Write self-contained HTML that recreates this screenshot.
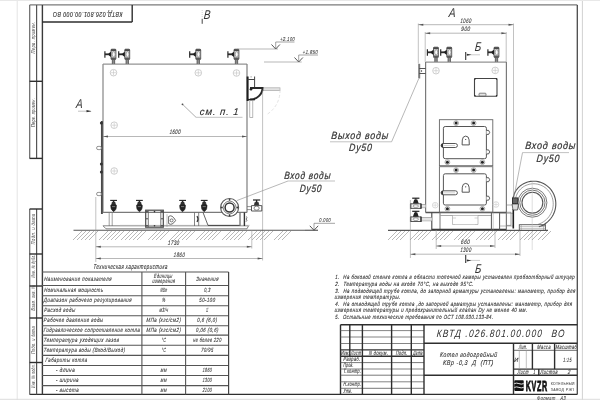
<!DOCTYPE html>
<html><head><meta charset="utf-8"><style>
html,body{margin:0;padding:0;background:#fff;}
svg{display:block;will-change:transform;}
text{font-family:"Liberation Sans",sans-serif;letter-spacing:0.09em;}
</style></head><body>
<svg width="600" height="400" viewBox="0 0 600 400" shape-rendering="auto">
<line x1="17.2" y1="0" x2="17.2" y2="400" stroke="#e4e4e4" stroke-width="1" />
<line x1="582.4" y1="0" x2="582.4" y2="400" stroke="#d2d2d2" stroke-width="1" />
<line x1="0" y1="0.5" x2="600" y2="0.5" stroke="#e8e8e8" stroke-width="1" />
<line x1="0" y1="399.3" x2="600" y2="399.3" stroke="#dcdcdc" stroke-width="1" />
<line x1="29.6" y1="4.8" x2="577.3" y2="4.8" stroke="#7a7a7a" stroke-width="1.3" />
<line x1="577.3" y1="5" x2="577.3" y2="394.4" stroke="#4a4a4a" stroke-width="1.3" />
<line x1="29.6" y1="394.4" x2="577.3" y2="394.4" stroke="#2e2e2e" stroke-width="1.4" />
<line x1="42.4" y1="5" x2="42.4" y2="394.4" stroke="#3a3a3a" stroke-width="1.4" />
<line x1="29.7" y1="5" x2="29.7" y2="158.4" stroke="#666" stroke-width="1.2" />
<line x1="36.6" y1="5" x2="36.6" y2="158.4" stroke="#555" stroke-width="1.2" />
<line x1="29.6" y1="158.4" x2="42" y2="158.4" stroke="#2e2e2e" stroke-width="1.4" />
<line x1="29.6" y1="81.3" x2="42" y2="81.3" stroke="#2e2e2e" stroke-width="1.4" />
<line x1="29.7" y1="209" x2="29.7" y2="394.4" stroke="#666" stroke-width="1.2" />
<line x1="36.6" y1="209" x2="36.6" y2="394.4" stroke="#555" stroke-width="1.2" />
<line x1="29.6" y1="209" x2="42" y2="209" stroke="#2e2e2e" stroke-width="1.4" />
<line x1="29.6" y1="254" x2="42" y2="254" stroke="#2e2e2e" stroke-width="1.4" />
<line x1="29.6" y1="286" x2="42" y2="286" stroke="#2e2e2e" stroke-width="1.4" />
<line x1="29.6" y1="318" x2="42" y2="318" stroke="#2e2e2e" stroke-width="1.4" />
<line x1="29.6" y1="362.5" x2="42" y2="362.5" stroke="#2e2e2e" stroke-width="1.4" />
<g transform="translate(33.4,37.5) rotate(-90)"><text x="0" y="0" font-size="5.2" font-style="italic" fill="#444" text-anchor="middle" textLength="32" lengthAdjust="spacingAndGlyphs" dominant-baseline="central">Перв. примен.</text></g>
<g transform="translate(33.4,112.5) rotate(-90)"><text x="0" y="0" font-size="5.2" font-style="italic" fill="#444" text-anchor="middle" textLength="29" lengthAdjust="spacingAndGlyphs" dominant-baseline="central">Перв. примен.</text></g>
<g transform="translate(33.4,229) rotate(-90)"><text x="0" y="0" font-size="5.2" font-style="italic" fill="#444" text-anchor="middle" textLength="31" lengthAdjust="spacingAndGlyphs" dominant-baseline="central">Подп. и дата</text></g>
<g transform="translate(33.4,266) rotate(-90)"><text x="0" y="0" font-size="5.2" font-style="italic" fill="#444" text-anchor="middle" textLength="23" lengthAdjust="spacingAndGlyphs" dominant-baseline="central">Инв. № дубл.</text></g>
<g transform="translate(33.4,297.5) rotate(-90)"><text x="0" y="0" font-size="5.2" font-style="italic" fill="#444" text-anchor="middle" textLength="26" lengthAdjust="spacingAndGlyphs" dominant-baseline="central">Взам. инв. №</text></g>
<g transform="translate(33.4,340) rotate(-90)"><text x="0" y="0" font-size="5.2" font-style="italic" fill="#444" text-anchor="middle" textLength="28" lengthAdjust="spacingAndGlyphs" dominant-baseline="central">Подп. и дата</text></g>
<g transform="translate(33.4,376) rotate(-90)"><text x="0" y="0" font-size="5.2" font-style="italic" fill="#444" text-anchor="middle" textLength="24" lengthAdjust="spacingAndGlyphs" dominant-baseline="central">Инв. № подл.</text></g>
<line x1="132.2" y1="5" x2="132.2" y2="22" stroke="#2e2e2e" stroke-width="1.4" />
<line x1="42" y1="22" x2="132.2" y2="22" stroke="#2e2e2e" stroke-width="1.4" />
<g transform="translate(87.5,14.2) rotate(180)"><text x="0" y="0" font-size="6.8" font-style="italic" fill="#333" stroke="#333" stroke-width="0.15" text-anchor="middle" dominant-baseline="central" textLength="70" lengthAdjust="spacingAndGlyphs">КВТД.026.801.00.000  ВО</text></g>
<line x1="103" y1="64.1" x2="247" y2="64.1" stroke="#939393" stroke-width="1.4" />
<line x1="247" y1="64" x2="247" y2="212.4" stroke="#888" stroke-width="1.3" />
<line x1="103" y1="212.4" x2="247" y2="212.4" stroke="#7a7a7a" stroke-width="1.2" />
<line x1="103" y1="64" x2="103" y2="212.4" stroke="#8f8f8f" stroke-width="1.3" />
<line x1="101.9" y1="121" x2="101.9" y2="214" stroke="#4a4a4a" stroke-width="1.9" />
<rect x="96.6" y="146.4" width="4.8" height="3.2" stroke="#777" stroke-width="0.8" fill="#fff" rx="1.5" />
<rect x="96.6" y="192.4" width="4.8" height="3.2" stroke="#777" stroke-width="0.8" fill="#fff" rx="1.5" />
<circle cx="101.4" cy="123" r="1.5" stroke="none" stroke-width="0" fill="#333" />
<circle cx="101.4" cy="164" r="1.5" stroke="none" stroke-width="0" fill="#333" />
<circle cx="101.4" cy="172" r="1.5" stroke="none" stroke-width="0" fill="#333" />
<circle cx="113.5" cy="72.7" r="3.3" stroke="#c2c2c2" stroke-width="0.8" fill="none" />
<line x1="110.8" y1="72.7" x2="116.2" y2="72.7" stroke="#c2c2c2" stroke-width="0.6" />
<line x1="113.5" y1="70.0" x2="113.5" y2="75.4" stroke="#c2c2c2" stroke-width="0.6" />
<circle cx="198.3" cy="72.8" r="3.3" stroke="#c2c2c2" stroke-width="0.8" fill="none" />
<line x1="195.6" y1="72.8" x2="201.00000000000003" y2="72.8" stroke="#c2c2c2" stroke-width="0.6" />
<line x1="198.3" y1="70.1" x2="198.3" y2="75.5" stroke="#c2c2c2" stroke-width="0.6" />
<circle cx="236.5" cy="73" r="3.3" stroke="#c2c2c2" stroke-width="0.8" fill="none" />
<line x1="233.79999999999998" y1="73" x2="239.20000000000002" y2="73" stroke="#c2c2c2" stroke-width="0.6" />
<line x1="236.5" y1="70.3" x2="236.5" y2="75.7" stroke="#c2c2c2" stroke-width="0.6" />
<circle cx="114.2" cy="125.2" r="3.3" stroke="#c2c2c2" stroke-width="0.8" fill="none" />
<line x1="111.5" y1="125.2" x2="116.9" y2="125.2" stroke="#c2c2c2" stroke-width="0.6" />
<line x1="114.2" y1="122.5" x2="114.2" y2="127.9" stroke="#c2c2c2" stroke-width="0.6" />
<circle cx="114.2" cy="171" r="3.3" stroke="#c2c2c2" stroke-width="0.8" fill="none" />
<line x1="111.5" y1="171" x2="116.9" y2="171" stroke="#c2c2c2" stroke-width="0.6" />
<line x1="114.2" y1="168.29999999999998" x2="114.2" y2="173.70000000000002" stroke="#c2c2c2" stroke-width="0.6" />
<rect x="112.0" y="59.400000000000006" width="3" height="4.599999999999998" stroke="none" stroke-width="0" fill="#8a8a8a" rx="0" />
<line x1="112.3" y1="59.400000000000006" x2="112.3" y2="64" stroke="#555" stroke-width="0.7" />
<line x1="114.7" y1="59.400000000000006" x2="114.7" y2="64" stroke="#555" stroke-width="0.7" />
<rect x="111.0" y="49.2" width="4.9" height="10.3" stroke="#555" stroke-width="0.9" fill="#d8d8d8" rx="0.8" />
<rect x="111.0" y="49.2" width="4.9" height="1.9" stroke="none" stroke-width="0" fill="#4a4a4a" rx="0" />
<rect x="111.0" y="57.5" width="4.9" height="2" stroke="none" stroke-width="0" fill="#5a5a5a" rx="0" />
<ellipse cx="113.7" cy="54.300000000000004" rx="1.5" ry="2.6" fill="#fafafa" stroke="#777" stroke-width="0.6"/>
<path d="M107.3 54.300000000000004 L111.0 51.7 L111.0 56.900000000000006 Z" stroke="none" stroke-width="0" fill="#1e1e1e" />
<line x1="104.9" y1="54.300000000000004" x2="108.5" y2="54.300000000000004" stroke="#2a2a2a" stroke-width="1.8" />
<line x1="104.9" y1="51.2" x2="104.9" y2="57.7" stroke="#2a2a2a" stroke-width="1.2" />
<rect x="125.8" y="59.400000000000006" width="3" height="4.599999999999998" stroke="none" stroke-width="0" fill="#8a8a8a" rx="0" />
<line x1="126.1" y1="59.400000000000006" x2="126.1" y2="64" stroke="#555" stroke-width="0.7" />
<line x1="128.5" y1="59.400000000000006" x2="128.5" y2="64" stroke="#555" stroke-width="0.7" />
<rect x="124.8" y="49.2" width="4.9" height="10.3" stroke="#555" stroke-width="0.9" fill="#d8d8d8" rx="0.8" />
<rect x="124.8" y="49.2" width="4.9" height="1.9" stroke="none" stroke-width="0" fill="#4a4a4a" rx="0" />
<rect x="124.8" y="57.5" width="4.9" height="2" stroke="none" stroke-width="0" fill="#5a5a5a" rx="0" />
<ellipse cx="127.5" cy="54.300000000000004" rx="1.5" ry="2.6" fill="#fafafa" stroke="#777" stroke-width="0.6"/>
<path d="M121.1 54.300000000000004 L124.8 51.7 L124.8 56.900000000000006 Z" stroke="none" stroke-width="0" fill="#1e1e1e" />
<line x1="118.7" y1="54.300000000000004" x2="122.3" y2="54.300000000000004" stroke="#2a2a2a" stroke-width="1.8" />
<line x1="118.7" y1="51.2" x2="118.7" y2="57.7" stroke="#2a2a2a" stroke-width="1.2" />
<rect x="196.8" y="59.400000000000006" width="3" height="4.599999999999998" stroke="none" stroke-width="0" fill="#8a8a8a" rx="0" />
<line x1="197.10000000000002" y1="59.400000000000006" x2="197.10000000000002" y2="64" stroke="#555" stroke-width="0.7" />
<line x1="199.5" y1="59.400000000000006" x2="199.5" y2="64" stroke="#555" stroke-width="0.7" />
<rect x="195.8" y="49.2" width="4.9" height="10.3" stroke="#555" stroke-width="0.9" fill="#d8d8d8" rx="0.8" />
<rect x="195.8" y="49.2" width="4.9" height="1.9" stroke="none" stroke-width="0" fill="#4a4a4a" rx="0" />
<rect x="195.8" y="57.5" width="4.9" height="2" stroke="none" stroke-width="0" fill="#5a5a5a" rx="0" />
<ellipse cx="198.5" cy="54.300000000000004" rx="1.5" ry="2.6" fill="#fafafa" stroke="#777" stroke-width="0.6"/>
<path d="M192.10000000000002 54.300000000000004 L195.8 51.7 L195.8 56.900000000000006 Z" stroke="none" stroke-width="0" fill="#1e1e1e" />
<line x1="189.70000000000002" y1="54.300000000000004" x2="193.3" y2="54.300000000000004" stroke="#2a2a2a" stroke-width="1.8" />
<line x1="189.70000000000002" y1="51.2" x2="189.70000000000002" y2="57.7" stroke="#2a2a2a" stroke-width="1.2" />
<rect x="235.0" y="59.400000000000006" width="3" height="4.599999999999998" stroke="none" stroke-width="0" fill="#8a8a8a" rx="0" />
<line x1="235.3" y1="59.400000000000006" x2="235.3" y2="64" stroke="#555" stroke-width="0.7" />
<line x1="237.7" y1="59.400000000000006" x2="237.7" y2="64" stroke="#555" stroke-width="0.7" />
<rect x="234.0" y="49.2" width="4.9" height="10.3" stroke="#555" stroke-width="0.9" fill="#d8d8d8" rx="0.8" />
<rect x="234.0" y="49.2" width="4.9" height="1.9" stroke="none" stroke-width="0" fill="#4a4a4a" rx="0" />
<rect x="234.0" y="57.5" width="4.9" height="2" stroke="none" stroke-width="0" fill="#5a5a5a" rx="0" />
<ellipse cx="236.7" cy="54.300000000000004" rx="1.5" ry="2.6" fill="#fafafa" stroke="#777" stroke-width="0.6"/>
<path d="M230.3 54.300000000000004 L234.0 51.7 L234.0 56.900000000000006 Z" stroke="none" stroke-width="0" fill="#1e1e1e" />
<line x1="227.9" y1="54.300000000000004" x2="231.5" y2="54.300000000000004" stroke="#2a2a2a" stroke-width="1.8" />
<line x1="227.9" y1="51.2" x2="227.9" y2="57.7" stroke="#2a2a2a" stroke-width="1.2" />
<line x1="247.6" y1="76.5" x2="247.6" y2="101" stroke="#1e1e1e" stroke-width="2" />
<line x1="254.6" y1="76.5" x2="254.6" y2="87.5" stroke="#444" stroke-width="1" />
<line x1="247.6" y1="79.5" x2="254.6" y2="79.5" stroke="#444" stroke-width="1" />
<line x1="251.1" y1="76" x2="251.1" y2="77.6" stroke="#777" stroke-width="0.6" />
<rect x="262.5" y="87.8" width="17.5" height="2.8" stroke="#aaa" stroke-width="0.7" fill="#e2e2e2" rx="0" />
<path d="M250 88 L262.5 88 A12.5 11.5 0 0 1 250 99.5" stroke="#2a2a2a" stroke-width="2" fill="none" />
<circle cx="251" cy="89.2" r="1.3" stroke="none" stroke-width="0" fill="#222" />
<line x1="247.6" y1="99.6" x2="255" y2="99.6" stroke="#222" stroke-width="1.4" />
<rect x="249.8" y="100.5" width="3" height="17" stroke="#999" stroke-width="0.7" fill="none" rx="0" />
<line x1="262.6" y1="90.5" x2="262.6" y2="260.5" stroke="#999" stroke-width="0.6" />
<path d="M280 90 A28 28 0 0 1 266 115" stroke="#d0d0d0" stroke-width="0.6" fill="none" stroke-dasharray="3 2"/>
<circle cx="182.5" cy="104.3" r="0.9" stroke="none" stroke-width="0" fill="#444" />
<line x1="182.5" y1="104.3" x2="196" y2="117.3" stroke="#777" stroke-width="0.6" />
<line x1="196" y1="117.3" x2="242.5" y2="117.3" stroke="#999" stroke-width="0.6" />
<text x="199.5" y="115" font-size="9.8" font-style="italic" font-weight="normal" fill="#2a2a2a" text-anchor="start" textLength="39.8" lengthAdjust="spacingAndGlyphs" transform="translate(199.5,115) skewX(-5) translate(-199.5,-115)" stroke="#2a2a2a" stroke-width="0.1">см. п. 1</text>
<line x1="103" y1="136.5" x2="247" y2="136.5" stroke="#888" stroke-width="0.6" />
<path d="M103 136.5 l5 -1 v2 z" stroke="none" stroke-width="0" fill="#555" />
<path d="M247 136.5 l-5 -1 v2 z" stroke="none" stroke-width="0" fill="#555" />
<text x="169.4" y="134.5" font-size="6.5" font-style="italic" font-weight="normal" fill="#3a3a3a" text-anchor="start" textLength="11.4" lengthAdjust="spacingAndGlyphs" transform="translate(169.4,134.5) skewX(-5) translate(-169.4,-134.5)"  stroke="#3a3a3a" stroke-width="0.12">1600</text>
<text x="75.8" y="108.5" font-size="12.8" font-style="italic" font-weight="normal" fill="#333" text-anchor="start" textLength="7.6" lengthAdjust="spacingAndGlyphs" transform="translate(75.8,108.5) skewX(-5) translate(-75.8,-108.5)" >A</text>
<line x1="78" y1="111.2" x2="91" y2="111.2" stroke="#999" stroke-width="0.6" />
<path d="M91.5 111.2 l-5 -1.1 v2.2 z" stroke="none" stroke-width="0" fill="#333" />
<text x="203.4" y="18.8" font-size="12.8" font-style="italic" font-weight="normal" fill="#333" text-anchor="start" textLength="7.6" lengthAdjust="spacingAndGlyphs" transform="translate(203.4,18.8) skewX(-5) translate(-203.4,-18.8)" >В</text>
<line x1="202.2" y1="19" x2="202.2" y2="23.8" stroke="#444" stroke-width="1" />
<line x1="202.2" y1="10" x2="202.2" y2="19" stroke="#bbb" stroke-width="0.6" stroke-dasharray="1 1"/>
<line x1="110.19999999999999" y1="200.4" x2="117.0" y2="200.4" stroke="#222" stroke-width="1.1" />
<line x1="113.6" y1="200.4" x2="113.6" y2="202.4" stroke="#222" stroke-width="1.1" />
<path d="M112.3 202.0 L114.89999999999999 202.0 L115.6 205.0 L111.6 205.0 Z" stroke="#222" stroke-width="0.6" fill="#333" />
<path d="M110.8 205.0 L116.39999999999999 205.0 Q117.0 209.9 113.6 211.70000000000002 Q110.19999999999999 209.9 110.8 205.0 Z" stroke="#222" stroke-width="0.6" fill="#222" />
<line x1="112.0" y1="206.6" x2="115.19999999999999" y2="206.6" stroke="#888" stroke-width="0.8" />
<line x1="136.0" y1="200.4" x2="142.8" y2="200.4" stroke="#222" stroke-width="1.1" />
<line x1="139.4" y1="200.4" x2="139.4" y2="202.4" stroke="#222" stroke-width="1.1" />
<path d="M138.1 202.0 L140.70000000000002 202.0 L141.4 205.0 L137.4 205.0 Z" stroke="#222" stroke-width="0.6" fill="#333" />
<path d="M136.6 205.0 L142.20000000000002 205.0 Q142.8 209.9 139.4 211.70000000000002 Q136.0 209.9 136.6 205.0 Z" stroke="#222" stroke-width="0.6" fill="#222" />
<line x1="137.8" y1="206.6" x2="141.0" y2="206.6" stroke="#888" stroke-width="0.8" />
<line x1="179.2" y1="200.4" x2="186.0" y2="200.4" stroke="#222" stroke-width="1.1" />
<line x1="182.6" y1="200.4" x2="182.6" y2="202.4" stroke="#222" stroke-width="1.1" />
<path d="M181.29999999999998 202.0 L183.9 202.0 L184.6 205.0 L180.6 205.0 Z" stroke="#222" stroke-width="0.6" fill="#333" />
<path d="M179.79999999999998 205.0 L185.4 205.0 Q186.0 209.9 182.6 211.70000000000002 Q179.2 209.9 179.79999999999998 205.0 Z" stroke="#222" stroke-width="0.6" fill="#222" />
<line x1="181.0" y1="206.6" x2="184.2" y2="206.6" stroke="#888" stroke-width="0.8" />
<line x1="200.79999999999998" y1="200.4" x2="207.6" y2="200.4" stroke="#222" stroke-width="1.1" />
<line x1="204.2" y1="200.4" x2="204.2" y2="202.4" stroke="#222" stroke-width="1.1" />
<path d="M202.89999999999998 202.0 L205.5 202.0 L206.2 205.0 L202.2 205.0 Z" stroke="#222" stroke-width="0.6" fill="#333" />
<path d="M201.39999999999998 205.0 L207.0 205.0 Q207.6 209.9 204.2 211.70000000000002 Q200.79999999999998 209.9 201.39999999999998 205.0 Z" stroke="#222" stroke-width="0.6" fill="#222" />
<line x1="202.6" y1="206.6" x2="205.79999999999998" y2="206.6" stroke="#888" stroke-width="0.8" />
<line x1="109.2" y1="212.4" x2="109.2" y2="226" stroke="#777" stroke-width="0.7" />
<line x1="112.2" y1="212.4" x2="112.2" y2="226" stroke="#777" stroke-width="0.7" />
<path d="M103 225.8 L248.5 225.8 L247 228.8 L106 228.8 Z" stroke="#666" stroke-width="0.8" fill="none" />
<line x1="120" y1="225.3" x2="250" y2="225.3" stroke="#bbb" stroke-width="0.5" />
<rect x="145.7" y="210.2" width="17.6" height="17" stroke="#4a4a4a" stroke-width="1.2" fill="none" rx="0" />
<line x1="148.3" y1="210.2" x2="148.3" y2="227.2" stroke="#555" stroke-width="0.8" />
<line x1="160.8" y1="210.2" x2="160.8" y2="227.2" stroke="#555" stroke-width="0.8" />
<circle cx="147" cy="211.6" r="0.8" stroke="none" stroke-width="0" fill="#333" />
<circle cx="147" cy="225.8" r="0.8" stroke="none" stroke-width="0" fill="#333" />
<circle cx="162" cy="211.6" r="0.8" stroke="none" stroke-width="0" fill="#333" />
<circle cx="162" cy="225.8" r="0.8" stroke="none" stroke-width="0" fill="#333" />
<circle cx="147" cy="218.7" r="0.8" stroke="none" stroke-width="0" fill="#333" />
<circle cx="162" cy="218.7" r="0.8" stroke="none" stroke-width="0" fill="#333" />
<circle cx="154.5" cy="211.6" r="0.8" stroke="none" stroke-width="0" fill="#333" />
<circle cx="154.5" cy="225.8" r="0.8" stroke="none" stroke-width="0" fill="#333" />
<path d="M168.6 216.5 Q172 214 175.6 220.5 Q172 226 168.6 223.5 Z" stroke="#444" stroke-width="0.8" fill="#fff" />
<circle cx="171.6" cy="220.4" r="1.5" stroke="#444" stroke-width="0.7" fill="none" />
<line x1="167" y1="214.2" x2="167" y2="227" stroke="#999" stroke-width="0.6" />
<line x1="194.5" y1="212.4" x2="194.5" y2="226" stroke="#666" stroke-width="0.8" />
<line x1="198.7" y1="212.4" x2="198.7" y2="226" stroke="#666" stroke-width="0.8" />
<path d="M197 216 Q199 219 197 222" stroke="#333" stroke-width="1.2" fill="none" />
<line x1="203" y1="212.4" x2="208" y2="225.4" stroke="#555" stroke-width="0.9" />
<line x1="208" y1="225.4" x2="240" y2="225.4" stroke="#444" stroke-width="1" />
<line x1="240" y1="212.4" x2="240" y2="226" stroke="#666" stroke-width="0.8" />
<circle cx="229.6" cy="207.5" r="9" stroke="#555" stroke-width="1.1" fill="#fff" />
<circle cx="229.6" cy="207.5" r="6.4" stroke="#666" stroke-width="0.8" fill="none" />
<circle cx="229.6" cy="207.5" r="4.5" stroke="#333" stroke-width="1.5" fill="#fff" />
<circle cx="237.29999999999998" cy="207.5" r="0.9" stroke="none" stroke-width="0" fill="#333" />
<circle cx="229.6" cy="215.2" r="0.9" stroke="none" stroke-width="0" fill="#333" />
<circle cx="221.9" cy="207.5" r="0.9" stroke="none" stroke-width="0" fill="#333" />
<circle cx="229.6" cy="199.8" r="0.9" stroke="none" stroke-width="0" fill="#333" />
<line x1="244.4" y1="212.4" x2="244.4" y2="226" stroke="#333" stroke-width="1.4" />
<path d="M246 216.5 q2.2 0.8 0 2.6 q2.2 0.8 0 2.6" stroke="#555" stroke-width="0.8" fill="none" />
<line x1="240" y1="212.4" x2="240" y2="226" stroke="#777" stroke-width="0.8" />
<line x1="247" y1="206.6" x2="251.5" y2="206.6" stroke="#666" stroke-width="0.7" />
<line x1="247" y1="209.6" x2="251.5" y2="209.6" stroke="#666" stroke-width="0.7" />
<line x1="253.00000000000003" y1="200" x2="260.20000000000005" y2="200" stroke="#222" stroke-width="1.2" />
<line x1="256.6" y1="200" x2="256.6" y2="203" stroke="#222" stroke-width="1.2" />
<path d="M255.00000000000003 202.2 L258.20000000000005 202.2 L259.0 205.6 L254.20000000000002 205.6 Z" stroke="#222" stroke-width="0.6" fill="#333" />
<path d="M251.5 205.6 L261.8 205.6 L261.8 211 L251.5 211 Z" stroke="#444" stroke-width="0.9" fill="#fff" />
<ellipse cx="256.6" cy="208.2" rx="2.6" ry="2" fill="#fff" stroke="#555" stroke-width="0.7"/>
<line x1="237" y1="200.5" x2="288" y2="181" stroke="#888" stroke-width="0.6" />
<line x1="288" y1="181" x2="335" y2="181" stroke="#999" stroke-width="0.6" />
<text x="284" y="179" font-size="10.5" font-style="italic" font-weight="normal" fill="#333" text-anchor="start" textLength="47" lengthAdjust="spacingAndGlyphs" transform="translate(284,179) skewX(-5) translate(-284,-179)" stroke="#333" stroke-width="0.22">Вход воды</text>
<text x="299.5" y="191.6" font-size="10.5" font-style="italic" font-weight="normal" fill="#333" text-anchor="start" textLength="22.5" lengthAdjust="spacingAndGlyphs" transform="translate(299.5,191.6) skewX(-5) translate(-299.5,-191.6)" stroke="#333" stroke-width="0.22">Dy50</text>
<line x1="237.5" y1="49" x2="278" y2="49" stroke="#888" stroke-width="0.6" />
<path d="M271.5 44.5 L275.7 49 L279.9 44.5" stroke="#444" stroke-width="0.9" fill="none" />
<line x1="275.7" y1="49" x2="275.7" y2="42" stroke="#666" stroke-width="0.6" />
<line x1="275.7" y1="42" x2="294.5" y2="42" stroke="#666" stroke-width="0.6" />
<text x="280" y="40.6" font-size="5.6" font-style="italic" font-weight="normal" fill="#444" text-anchor="start" textLength="15" lengthAdjust="spacingAndGlyphs" transform="translate(280,40.6) skewX(-5) translate(-280,-40.6)"  stroke="#444" stroke-width="0.12">+2.100</text>
<line x1="264" y1="62" x2="301.7" y2="62" stroke="#888" stroke-width="0.6" />
<path d="M294.5 57.5 L298.7 62 L302.9 57.5" stroke="#444" stroke-width="0.9" fill="none" />
<line x1="298.7" y1="62" x2="298.7" y2="55" stroke="#666" stroke-width="0.6" />
<line x1="298.7" y1="55" x2="318" y2="55" stroke="#666" stroke-width="0.6" />
<text x="302.5" y="53.6" font-size="5.6" font-style="italic" font-weight="normal" fill="#444" text-anchor="start" textLength="15.5" lengthAdjust="spacingAndGlyphs" transform="translate(302.5,53.6) skewX(-5) translate(-302.5,-53.6)"  stroke="#444" stroke-width="0.12">+1.850</text>
<line x1="305" y1="230.3" x2="318" y2="230.3" stroke="#888" stroke-width="0.6" />
<path d="M309.8 225.8 L314 230.3 L318.2 225.8" stroke="#444" stroke-width="0.9" fill="none" />
<line x1="314" y1="230.3" x2="314" y2="223.3" stroke="#666" stroke-width="0.6" />
<line x1="314" y1="223.3" x2="335" y2="223.3" stroke="#666" stroke-width="0.6" />
<text x="319" y="221.9" font-size="5.6" font-style="italic" font-weight="normal" fill="#444" text-anchor="start" textLength="12" lengthAdjust="spacingAndGlyphs" transform="translate(319,221.9) skewX(-5) translate(-319,-221.9)"  stroke="#444" stroke-width="0.12">0.000</text>
<line x1="73.5" y1="230.3" x2="318" y2="230.3" stroke="#555" stroke-width="1.1" />
<line x1="73" y1="240" x2="82" y2="231" stroke="#8a8a8a" stroke-width="0.6" />
<line x1="77" y1="240" x2="86" y2="231" stroke="#8a8a8a" stroke-width="0.6" />
<line x1="81" y1="240" x2="90" y2="231" stroke="#8a8a8a" stroke-width="0.6" />
<line x1="85" y1="240" x2="94" y2="231" stroke="#8a8a8a" stroke-width="0.6" />
<line x1="89" y1="240" x2="98" y2="231" stroke="#8a8a8a" stroke-width="0.6" />
<line x1="99" y1="240" x2="108" y2="231" stroke="#8a8a8a" stroke-width="0.6" />
<line x1="103" y1="240" x2="112" y2="231" stroke="#8a8a8a" stroke-width="0.6" />
<line x1="107" y1="240" x2="116" y2="231" stroke="#8a8a8a" stroke-width="0.6" />
<line x1="111" y1="240" x2="120" y2="231" stroke="#8a8a8a" stroke-width="0.6" />
<line x1="115" y1="240" x2="124" y2="231" stroke="#8a8a8a" stroke-width="0.6" />
<line x1="121" y1="240" x2="130" y2="231" stroke="#8a8a8a" stroke-width="0.6" />
<line x1="125" y1="240" x2="134" y2="231" stroke="#8a8a8a" stroke-width="0.6" />
<line x1="129" y1="240" x2="138" y2="231" stroke="#8a8a8a" stroke-width="0.6" />
<line x1="133" y1="240" x2="142" y2="231" stroke="#8a8a8a" stroke-width="0.6" />
<line x1="137" y1="240" x2="146" y2="231" stroke="#8a8a8a" stroke-width="0.6" />
<line x1="148" y1="240" x2="157" y2="231" stroke="#8a8a8a" stroke-width="0.6" />
<line x1="152" y1="240" x2="161" y2="231" stroke="#8a8a8a" stroke-width="0.6" />
<line x1="156" y1="240" x2="165" y2="231" stroke="#8a8a8a" stroke-width="0.6" />
<line x1="160" y1="240" x2="169" y2="231" stroke="#8a8a8a" stroke-width="0.6" />
<line x1="170" y1="240" x2="179" y2="231" stroke="#8a8a8a" stroke-width="0.6" />
<line x1="174" y1="240" x2="183" y2="231" stroke="#8a8a8a" stroke-width="0.6" />
<line x1="178" y1="240" x2="187" y2="231" stroke="#8a8a8a" stroke-width="0.6" />
<line x1="182" y1="240" x2="191" y2="231" stroke="#8a8a8a" stroke-width="0.6" />
<line x1="186" y1="240" x2="195" y2="231" stroke="#8a8a8a" stroke-width="0.6" />
<line x1="196" y1="240" x2="205" y2="231" stroke="#8a8a8a" stroke-width="0.6" />
<line x1="200" y1="240" x2="209" y2="231" stroke="#8a8a8a" stroke-width="0.6" />
<line x1="204" y1="240" x2="213" y2="231" stroke="#8a8a8a" stroke-width="0.6" />
<line x1="208" y1="240" x2="217" y2="231" stroke="#8a8a8a" stroke-width="0.6" />
<line x1="212" y1="240" x2="221" y2="231" stroke="#8a8a8a" stroke-width="0.6" />
<line x1="222" y1="240" x2="231" y2="231" stroke="#8a8a8a" stroke-width="0.6" />
<line x1="226" y1="240" x2="235" y2="231" stroke="#8a8a8a" stroke-width="0.6" />
<line x1="230" y1="240" x2="239" y2="231" stroke="#8a8a8a" stroke-width="0.6" />
<line x1="234" y1="240" x2="243" y2="231" stroke="#8a8a8a" stroke-width="0.6" />
<line x1="238" y1="240" x2="247" y2="231" stroke="#8a8a8a" stroke-width="0.6" />
<line x1="248" y1="240" x2="257" y2="231" stroke="#8a8a8a" stroke-width="0.6" />
<line x1="252" y1="240" x2="261" y2="231" stroke="#8a8a8a" stroke-width="0.6" />
<line x1="256" y1="240" x2="265" y2="231" stroke="#8a8a8a" stroke-width="0.6" />
<line x1="260" y1="240" x2="269" y2="231" stroke="#8a8a8a" stroke-width="0.6" />
<line x1="264" y1="240" x2="273" y2="231" stroke="#8a8a8a" stroke-width="0.6" />
<line x1="274" y1="240" x2="283" y2="231" stroke="#8a8a8a" stroke-width="0.6" />
<line x1="278" y1="240" x2="287" y2="231" stroke="#8a8a8a" stroke-width="0.6" />
<line x1="282" y1="240" x2="291" y2="231" stroke="#8a8a8a" stroke-width="0.6" />
<line x1="95.8" y1="197" x2="95.8" y2="262" stroke="#999" stroke-width="0.6" />
<line x1="251.8" y1="230.4" x2="251.8" y2="248.5" stroke="#999" stroke-width="0.6" />
<line x1="95.8" y1="246.8" x2="251.8" y2="246.8" stroke="#888" stroke-width="0.6" />
<path d="M95.8 246.8 l5 -1 v2 z" stroke="none" stroke-width="0" fill="#555" />
<path d="M251.8 246.8 l-5 -1 v2 z" stroke="none" stroke-width="0" fill="#555" />
<text x="167.8" y="244.8" font-size="6.4" font-style="italic" font-weight="normal" fill="#3a3a3a" text-anchor="start" textLength="11.7" lengthAdjust="spacingAndGlyphs" transform="translate(167.8,244.8) skewX(-5) translate(-167.8,-244.8)"  stroke="#3a3a3a" stroke-width="0.12">1730</text>
<line x1="95.8" y1="258.5" x2="262.6" y2="258.5" stroke="#888" stroke-width="0.6" />
<path d="M95.8 258.5 l5 -1 v2 z" stroke="none" stroke-width="0" fill="#555" />
<path d="M262.6 258.5 l-5 -1 v2 z" stroke="none" stroke-width="0" fill="#555" />
<text x="173.6" y="256.8" font-size="6.4" font-style="italic" font-weight="normal" fill="#3a3a3a" text-anchor="start" textLength="11.4" lengthAdjust="spacingAndGlyphs" transform="translate(173.6,256.8) skewX(-5) translate(-173.6,-256.8)"  stroke="#3a3a3a" stroke-width="0.12">1860</text>
<line x1="425.6" y1="62.1" x2="506.4" y2="62.1" stroke="#939393" stroke-width="1.4" />
<line x1="425.6" y1="61.9" x2="425.6" y2="212.5" stroke="#7a7a7a" stroke-width="1.2" />
<line x1="506.4" y1="61.9" x2="506.4" y2="230.3" stroke="#7a7a7a" stroke-width="1.2" />
<line x1="425.6" y1="212.5" x2="506.4" y2="212.5" stroke="#555" stroke-width="1.3" />
<rect x="434.5" y="57.400000000000006" width="3" height="4.4999999999999964" stroke="none" stroke-width="0" fill="#8a8a8a" rx="0" />
<line x1="434.8" y1="57.400000000000006" x2="434.8" y2="61.9" stroke="#555" stroke-width="0.7" />
<line x1="437.2" y1="57.400000000000006" x2="437.2" y2="61.9" stroke="#555" stroke-width="0.7" />
<rect x="433.5" y="47.2" width="4.9" height="10.3" stroke="#555" stroke-width="0.9" fill="#d8d8d8" rx="0.8" />
<rect x="433.5" y="47.2" width="4.9" height="1.9" stroke="none" stroke-width="0" fill="#4a4a4a" rx="0" />
<rect x="433.5" y="55.5" width="4.9" height="2" stroke="none" stroke-width="0" fill="#5a5a5a" rx="0" />
<ellipse cx="436.2" cy="52.300000000000004" rx="1.5" ry="2.6" fill="#fafafa" stroke="#777" stroke-width="0.6"/>
<path d="M429.8 52.300000000000004 L433.5 49.7 L433.5 54.900000000000006 Z" stroke="none" stroke-width="0" fill="#1e1e1e" />
<line x1="427.4" y1="52.300000000000004" x2="431" y2="52.300000000000004" stroke="#2a2a2a" stroke-width="1.8" />
<line x1="427.4" y1="49.2" x2="427.4" y2="55.7" stroke="#2a2a2a" stroke-width="1.2" />
<rect x="447.8" y="57.400000000000006" width="3" height="4.4999999999999964" stroke="none" stroke-width="0" fill="#8a8a8a" rx="0" />
<line x1="448.1" y1="57.400000000000006" x2="448.1" y2="61.9" stroke="#555" stroke-width="0.7" />
<line x1="450.5" y1="57.400000000000006" x2="450.5" y2="61.9" stroke="#555" stroke-width="0.7" />
<rect x="446.8" y="47.2" width="4.9" height="10.3" stroke="#555" stroke-width="0.9" fill="#d8d8d8" rx="0.8" />
<rect x="446.8" y="47.2" width="4.9" height="1.9" stroke="none" stroke-width="0" fill="#4a4a4a" rx="0" />
<rect x="446.8" y="55.5" width="4.9" height="2" stroke="none" stroke-width="0" fill="#5a5a5a" rx="0" />
<ellipse cx="449.5" cy="52.300000000000004" rx="1.5" ry="2.6" fill="#fafafa" stroke="#777" stroke-width="0.6"/>
<path d="M443.1 52.300000000000004 L446.8 49.7 L446.8 54.900000000000006 Z" stroke="none" stroke-width="0" fill="#1e1e1e" />
<line x1="440.7" y1="52.300000000000004" x2="444.3" y2="52.300000000000004" stroke="#2a2a2a" stroke-width="1.8" />
<line x1="440.7" y1="49.2" x2="440.7" y2="55.7" stroke="#2a2a2a" stroke-width="1.2" />
<rect x="495.0" y="57.400000000000006" width="3" height="4.4999999999999964" stroke="none" stroke-width="0" fill="#8a8a8a" rx="0" />
<line x1="495.3" y1="57.400000000000006" x2="495.3" y2="61.9" stroke="#555" stroke-width="0.7" />
<line x1="497.7" y1="57.400000000000006" x2="497.7" y2="61.9" stroke="#555" stroke-width="0.7" />
<rect x="494.0" y="47.2" width="4.9" height="10.3" stroke="#555" stroke-width="0.9" fill="#d8d8d8" rx="0.8" />
<rect x="494.0" y="47.2" width="4.9" height="1.9" stroke="none" stroke-width="0" fill="#4a4a4a" rx="0" />
<rect x="494.0" y="55.5" width="4.9" height="2" stroke="none" stroke-width="0" fill="#5a5a5a" rx="0" />
<ellipse cx="496.7" cy="52.300000000000004" rx="1.5" ry="2.6" fill="#fafafa" stroke="#777" stroke-width="0.6"/>
<path d="M490.3 52.300000000000004 L494.0 49.7 L494.0 54.900000000000006 Z" stroke="none" stroke-width="0" fill="#1e1e1e" />
<line x1="487.9" y1="52.300000000000004" x2="491.5" y2="52.300000000000004" stroke="#2a2a2a" stroke-width="1.8" />
<line x1="487.9" y1="49.2" x2="487.9" y2="55.7" stroke="#2a2a2a" stroke-width="1.2" />
<line x1="419.2" y1="63.8" x2="419.2" y2="78.5" stroke="#7a7a7a" stroke-width="2" />
<line x1="419.2" y1="68.5" x2="425.6" y2="68.5" stroke="#444" stroke-width="0.9" />
<line x1="419.2" y1="73.5" x2="425.6" y2="73.5" stroke="#444" stroke-width="0.9" />
<circle cx="421.5" cy="71" r="0.7" stroke="none" stroke-width="0" fill="#333" />
<circle cx="436" cy="70.7" r="3.3" stroke="#c2c2c2" stroke-width="0.8" fill="none" />
<line x1="433.3" y1="70.7" x2="438.7" y2="70.7" stroke="#c2c2c2" stroke-width="0.6" />
<line x1="436" y1="68.0" x2="436" y2="73.4" stroke="#c2c2c2" stroke-width="0.6" />
<circle cx="495.2" cy="70.4" r="3.3" stroke="#c2c2c2" stroke-width="0.8" fill="none" />
<line x1="492.5" y1="70.4" x2="497.9" y2="70.4" stroke="#c2c2c2" stroke-width="0.6" />
<line x1="495.2" y1="67.7" x2="495.2" y2="73.10000000000001" stroke="#c2c2c2" stroke-width="0.6" />
<rect x="474.5" y="78.5" width="22.5" height="17.7" stroke="#444" stroke-width="1.1" fill="none" rx="0.8" />
<rect x="479" y="93.2" width="7" height="2.8" stroke="#555" stroke-width="0.7" fill="#e6e6e6" rx="0.8" />
<circle cx="475" cy="79" r="0.7" stroke="none" stroke-width="0" fill="#222" />
<circle cx="496.5" cy="79" r="0.7" stroke="none" stroke-width="0" fill="#222" />
<circle cx="475" cy="95.7" r="0.7" stroke="none" stroke-width="0" fill="#222" />
<circle cx="496.5" cy="95.7" r="0.7" stroke="none" stroke-width="0" fill="#222" />
<rect x="439.4" y="119.7" width="53.4" height="45.999999999999986" stroke="#666" stroke-width="0.9" fill="none" rx="0" />
<rect x="443.4" y="126.5" width="43" height="32.19999999999999" stroke="#555" stroke-width="1" fill="none" rx="1.8" />
<circle cx="456.1" cy="123.10000000000001" r="2.4" stroke="#888" stroke-width="0.7" fill="#fff" />
<circle cx="456.1" cy="123.10000000000001" r="1.5" stroke="none" stroke-width="0" fill="#222" />
<circle cx="473.6" cy="123.10000000000001" r="2.4" stroke="#888" stroke-width="0.7" fill="#fff" />
<circle cx="473.6" cy="123.10000000000001" r="1.5" stroke="none" stroke-width="0" fill="#222" />
<circle cx="447.4" cy="162.2" r="2.4" stroke="#888" stroke-width="0.7" fill="#fff" />
<circle cx="447.4" cy="162.2" r="1.5" stroke="none" stroke-width="0" fill="#222" />
<circle cx="482.4" cy="162.2" r="2.4" stroke="#888" stroke-width="0.7" fill="#fff" />
<circle cx="482.4" cy="162.2" r="1.5" stroke="none" stroke-width="0" fill="#222" />
<rect x="441.1" y="143.5" width="16.3" height="4" stroke="#444" stroke-width="0.9" fill="#fff" rx="2" />
<path d="M443.1 143.5 A2 2 0 0 0 443.1 147.5 Z" stroke="none" stroke-width="0" fill="#333" />
<line x1="444" y1="145.5" x2="455" y2="145.5" stroke="#aaa" stroke-width="0.5" />
<path d="M462.1 144.9 L462.3 139.9 Q462.6 136.1 465.7 136.1 Q468.8 136.1 469.1 139.9 L469.3 144.9 Z" stroke="#444" stroke-width="0.9" fill="#fff" />
<circle cx="465.7" cy="139.5" r="0.6" stroke="none" stroke-width="0" fill="#333" />
<path d="M486.5 130.4 L488.6 130.4 Q490.8 132.4 488.6 134.4 L486.5 134.4" stroke="#444" stroke-width="0.9" fill="#fff" />
<path d="M486.5 149.89999999999998 L488.6 149.89999999999998 Q490.8 151.89999999999998 488.6 153.89999999999998 L486.5 153.89999999999998" stroke="#444" stroke-width="0.9" fill="#fff" />
<rect x="439.4" y="166.7" width="53.4" height="45.60000000000002" stroke="#666" stroke-width="0.9" fill="none" rx="0" />
<rect x="443.4" y="173.8" width="43" height="31.19999999999999" stroke="#555" stroke-width="1" fill="none" rx="1.8" />
<circle cx="456.1" cy="170.1" r="2.4" stroke="#888" stroke-width="0.7" fill="#fff" />
<circle cx="456.1" cy="170.1" r="1.5" stroke="none" stroke-width="0" fill="#222" />
<circle cx="473.6" cy="170.1" r="2.4" stroke="#888" stroke-width="0.7" fill="#fff" />
<circle cx="473.6" cy="170.1" r="1.5" stroke="none" stroke-width="0" fill="#222" />
<circle cx="447.4" cy="208.8" r="2.4" stroke="#888" stroke-width="0.7" fill="#fff" />
<circle cx="447.4" cy="208.8" r="1.5" stroke="none" stroke-width="0" fill="#222" />
<circle cx="482.4" cy="208.8" r="2.4" stroke="#888" stroke-width="0.7" fill="#fff" />
<circle cx="482.4" cy="208.8" r="1.5" stroke="none" stroke-width="0" fill="#222" />
<rect x="441.1" y="190.8" width="16.3" height="4" stroke="#444" stroke-width="0.9" fill="#fff" rx="2" />
<path d="M443.1 190.8 A2 2 0 0 0 443.1 194.8 Z" stroke="none" stroke-width="0" fill="#333" />
<line x1="444" y1="192.8" x2="455" y2="192.8" stroke="#aaa" stroke-width="0.5" />
<path d="M462.1 192.20000000000002 L462.3 187.20000000000002 Q462.6 183.4 465.7 183.4 Q468.8 183.4 469.1 187.20000000000002 L469.3 192.20000000000002 Z" stroke="#444" stroke-width="0.9" fill="#fff" />
<circle cx="465.7" cy="186.8" r="0.6" stroke="none" stroke-width="0" fill="#333" />
<path d="M486.5 177.70000000000002 L488.6 177.70000000000002 Q490.8 179.70000000000002 488.6 181.70000000000002 L486.5 181.70000000000002" stroke="#444" stroke-width="0.9" fill="#fff" />
<path d="M486.5 196.2 L488.6 196.2 Q490.8 198.2 488.6 200.2 L486.5 200.2" stroke="#444" stroke-width="0.9" fill="#fff" />
<line x1="431.8" y1="212.5" x2="431.8" y2="230.3" stroke="#444" stroke-width="1.1" />
<line x1="440" y1="212.5" x2="440" y2="230.3" stroke="#666" stroke-width="0.9" />
<line x1="431.8" y1="229.3" x2="506" y2="229.3" stroke="#333" stroke-width="1.3" />
<line x1="440" y1="215.5" x2="491.5" y2="215.5" stroke="#999" stroke-width="0.6" />
<path d="M440 215.5 H452.5 V224.5 H455" stroke="#999" stroke-width="0.6" fill="none" />
<path d="M491.5 215.5 H478 V224.5 H475" stroke="#999" stroke-width="0.6" fill="none" />
<line x1="455" y1="224.5" x2="475" y2="224.5" stroke="#aaa" stroke-width="0.6" />
<line x1="452.5" y1="218" x2="456" y2="218" stroke="#aaa" stroke-width="0.5" />
<line x1="478" y1="218" x2="474.5" y2="218" stroke="#aaa" stroke-width="0.5" />
<line x1="491.4" y1="212.5" x2="491.4" y2="230.3" stroke="#555" stroke-width="1" />
<line x1="493.2" y1="212.5" x2="493.2" y2="230.3" stroke="#999" stroke-width="0.5" />
<line x1="499.6" y1="212.5" x2="499.6" y2="230.3" stroke="#555" stroke-width="1" />
<line x1="499.6" y1="213.3" x2="513" y2="213.3" stroke="#888" stroke-width="0.6" />
<line x1="499.6" y1="226" x2="513" y2="226" stroke="#888" stroke-width="0.6" />
<circle cx="435.2" cy="205.2" r="2.8" stroke="#cfcfcf" stroke-width="0.8" fill="none" />
<line x1="433.0" y1="205.2" x2="437.4" y2="205.2" stroke="#cfcfcf" stroke-width="0.6" />
<line x1="435.2" y1="202.99999999999997" x2="435.2" y2="207.4" stroke="#cfcfcf" stroke-width="0.6" />
<circle cx="496" cy="204.5" r="2.8" stroke="#cfcfcf" stroke-width="0.8" fill="none" />
<line x1="493.8" y1="204.5" x2="498.2" y2="204.5" stroke="#cfcfcf" stroke-width="0.6" />
<line x1="496" y1="202.29999999999998" x2="496" y2="206.70000000000002" stroke="#cfcfcf" stroke-width="0.6" />
<line x1="412.2" y1="198.2" x2="419.40000000000003" y2="198.2" stroke="#222" stroke-width="1.2" />
<line x1="415.8" y1="198.2" x2="415.8" y2="199.79999999999998" stroke="#222" stroke-width="1.2" />
<path d="M414.3 199.39999999999998 L417.3 199.39999999999998 L418.8 203.79999999999998 L412.8 203.79999999999998 Z" stroke="none" stroke-width="0" fill="#222" />
<line x1="420.8" y1="204.6" x2="425.6" y2="204.6" stroke="#666" stroke-width="0.8" />
<line x1="420.8" y1="207.6" x2="425.6" y2="207.6" stroke="#666" stroke-width="0.8" />
<rect x="420.8" y="204.6" width="4.800000000000011" height="3" stroke="none" stroke-width="0" fill="#e4e4e4" rx="0" />
<path d="M410.6 203.79999999999998 L421.0 203.79999999999998 L421.0 208.39999999999998 L410.6 208.39999999999998 Z" stroke="#444" stroke-width="0.9" fill="#f4f4f4" />
<ellipse cx="415.8" cy="206.1" rx="2.7" ry="1.3" fill="#fff" stroke="#666" stroke-width="0.6"/>
<line x1="410.6" y1="203.39999999999998" x2="410.6" y2="208.79999999999998" stroke="#333" stroke-width="1.3" />
<line x1="421.0" y1="203.39999999999998" x2="421.0" y2="208.79999999999998" stroke="#333" stroke-width="1.3" />
<line x1="412.2" y1="211.3" x2="419.40000000000003" y2="211.3" stroke="#222" stroke-width="1.2" />
<line x1="415.8" y1="211.3" x2="415.8" y2="212.9" stroke="#222" stroke-width="1.2" />
<path d="M414.3 212.5 L417.3 212.5 L418.8 216.9 L412.8 216.9 Z" stroke="none" stroke-width="0" fill="#222" />
<line x1="420.8" y1="217.70000000000002" x2="431.8" y2="217.70000000000002" stroke="#666" stroke-width="0.8" />
<line x1="420.8" y1="220.70000000000002" x2="431.8" y2="220.70000000000002" stroke="#666" stroke-width="0.8" />
<rect x="420.8" y="217.70000000000002" width="11.0" height="3" stroke="none" stroke-width="0" fill="#e4e4e4" rx="0" />
<path d="M410.6 216.9 L421.0 216.9 L421.0 221.5 L410.6 221.5 Z" stroke="#444" stroke-width="0.9" fill="#f4f4f4" />
<ellipse cx="415.8" cy="219.20000000000002" rx="2.7" ry="1.3" fill="#fff" stroke="#666" stroke-width="0.6"/>
<line x1="410.6" y1="216.5" x2="410.6" y2="221.9" stroke="#333" stroke-width="1.3" />
<line x1="421.0" y1="216.5" x2="421.0" y2="221.9" stroke="#333" stroke-width="1.3" />
<path d="M513.77 207.69 L513.31 206.07 L512.98 204.40 L512.80 202.70 L512.77 200.98 L512.89 199.26 L513.16 197.55 L513.59 195.85 L514.16 194.19 L514.88 192.58 L515.74 191.03 L516.74 189.56 L517.87 188.17 L519.12 186.88 L520.49 185.69 L521.97 184.63 L523.54 183.69 L525.19 182.89 L526.92 182.24 L528.70 181.73 L530.54 181.39 L532.40 181.20 L534.28 181.18 L536.17 181.32 L538.05 181.63 L539.90 182.10 L541.71 182.74 L543.47 183.53 L545.16 184.48 L546.76 185.58 L548.27 186.83 L549.68 188.20 L550.96 189.70 L552.12 191.32 L553.13 193.03 L553.99 194.84 L554.70 196.73 L555.24 198.67 L555.61 200.67 L555.80 202.70 L555.82 204.75 L555.65 206.80 L555.31 208.84 L554.79 210.85 L554.09 212.81 L553.21 214.72 L552.17 216.55 L550.97 218.28 L549.62 219.92 L548.12 221.43 L546.49 222.82 L544.73 224.06 L542.87 225.15 L540.91 226.08 L538.87 226.83 L545.4 224.7" stroke="#555" stroke-width="1.1" fill="none" />
<path d="M516.29 207.02 L515.87 205.62 L515.57 204.17 L515.40 202.70 L515.36 201.21 L515.45 199.71 L515.67 198.22 L516.03 196.74 L516.51 195.29 L517.13 193.88 L517.87 192.53 L518.73 191.23 L519.71 190.01 L520.79 188.87 L521.98 187.82 L523.27 186.88 L524.64 186.05 L526.08 185.34 L527.59 184.75 L529.15 184.30 L530.76 183.98 L532.40 183.80 L534.06 183.77 L535.72 183.88 L537.37 184.14 L539.01 184.54 L540.61 185.09 L542.17 185.78 L543.66 186.61 L545.09 187.57 L546.44 188.66 L547.69 189.87 L548.83 191.19 L549.86 192.62 L550.77 194.13 L551.55 195.73 L552.19 197.40 L552.68 199.12 L553.02 200.90 L553.20 202.70 L553.23 204.52 L553.09 206.35 L552.80 208.17 L552.34 209.96 L551.73 211.71 L550.96 213.42 L550.04 215.05 L548.98 216.61 L547.78 218.08 L546.45 219.44 L545.00 220.69 L543.43 221.81 L541.77 222.79 L540.02 223.63 L538.19 224.32" stroke="#777" stroke-width="0.7" fill="none" />
<circle cx="532.4" cy="202.7" r="14.5" stroke="#555" stroke-width="0.8" fill="none" />
<circle cx="532.4" cy="202.7" r="12.6" stroke="#555" stroke-width="0.8" fill="none" />
<circle cx="532.4" cy="202.7" r="10.4" stroke="#555" stroke-width="1.1" fill="none" />
<rect x="519.3" y="224.7" width="26.1" height="5.8" stroke="#555" stroke-width="0.9" fill="none" rx="0" />
<line x1="519.3" y1="226.6" x2="545.4" y2="226.6" stroke="#888" stroke-width="0.5" />
<line x1="519.3" y1="228.4" x2="545.4" y2="228.4" stroke="#888" stroke-width="0.5" />
<line x1="521.2" y1="224.7" x2="521.2" y2="230.5" stroke="#888" stroke-width="0.5" />
<line x1="543.5" y1="224.7" x2="543.5" y2="230.5" stroke="#888" stroke-width="0.5" />
<line x1="513.3" y1="209" x2="513.3" y2="228.5" stroke="#1e1e1e" stroke-width="1.6" />
<rect x="512.4" y="197.9" width="5.5" height="5.5" stroke="#222" stroke-width="0.8" fill="#666" rx="0" />
<path d="M512 204 L518.5 204 L517.5 210 L513 210 Z" stroke="#333" stroke-width="0.7" fill="#ddd" />
<line x1="511" y1="212.3" x2="511" y2="225.4" stroke="#777" stroke-width="0.7" />
<line x1="506.4" y1="212.3" x2="511" y2="212.3" stroke="#777" stroke-width="0.7" />
<line x1="506.4" y1="225.4" x2="511" y2="225.4" stroke="#777" stroke-width="0.7" />
<line x1="506.4" y1="205" x2="512.4" y2="205" stroke="#777" stroke-width="0.6" />
<line x1="532.2" y1="182" x2="532.2" y2="250" stroke="#bbb" stroke-width="0.5" />
<line x1="418.3" y1="23.5" x2="418.3" y2="63.5" stroke="#999" stroke-width="0.6" />
<line x1="425.2" y1="32" x2="425.2" y2="61.9" stroke="#999" stroke-width="0.6" />
<line x1="506.2" y1="32" x2="506.2" y2="61.9" stroke="#999" stroke-width="0.6" />
<line x1="513.5" y1="23.5" x2="513.5" y2="196" stroke="#999" stroke-width="0.6" />
<line x1="418.3" y1="24.7" x2="513.5" y2="24.7" stroke="#888" stroke-width="0.6" />
<path d="M418.3 24.7 l5 -1 v2 z" stroke="none" stroke-width="0" fill="#555" />
<path d="M513.5 24.7 l-5 -1 v2 z" stroke="none" stroke-width="0" fill="#555" />
<line x1="425.2" y1="33.2" x2="506.4" y2="33.2" stroke="#888" stroke-width="0.6" />
<path d="M425.2 33.2 l5 -1 v2 z" stroke="none" stroke-width="0" fill="#555" />
<path d="M506.4 33.2 l-5 -1 v2 z" stroke="none" stroke-width="0" fill="#555" />
<text x="460.3" y="22.9" font-size="6.4" font-style="italic" font-weight="normal" fill="#3a3a3a" text-anchor="start" textLength="11.3" lengthAdjust="spacingAndGlyphs" transform="translate(460.3,22.9) skewX(-5) translate(-460.3,-22.9)"  stroke="#3a3a3a" stroke-width="0.12">1060</text>
<text x="461" y="31.3" font-size="6.4" font-style="italic" font-weight="normal" fill="#3a3a3a" text-anchor="start" textLength="9.5" lengthAdjust="spacingAndGlyphs" transform="translate(461,31.3) skewX(-5) translate(-461,-31.3)"  stroke="#3a3a3a" stroke-width="0.12">900</text>
<text x="448.6" y="16.8" font-size="12.8" font-style="italic" font-weight="normal" fill="#333" text-anchor="start" textLength="7.8" lengthAdjust="spacingAndGlyphs" transform="translate(448.6,16.8) skewX(-5) translate(-448.6,-16.8)" >A</text>
<line x1="465.7" y1="52" x2="465.7" y2="60" stroke="#333" stroke-width="1.1" />
<line x1="465.7" y1="54.8" x2="480" y2="54.8" stroke="#aaa" stroke-width="0.6" />
<path d="M466.9 53.8 L471.5 54.8 L466.9 55.8 Z" stroke="none" stroke-width="0" fill="#333" />
<text x="474.6" y="51.5" font-size="12.8" font-style="italic" font-weight="normal" fill="#333" text-anchor="start" textLength="7.4" lengthAdjust="spacingAndGlyphs" transform="translate(474.6,51.5) skewX(-5) translate(-474.6,-51.5)" >Б</text>
<line x1="465.7" y1="255" x2="465.7" y2="263" stroke="#333" stroke-width="1.1" />
<line x1="465.7" y1="260.4" x2="480" y2="260.4" stroke="#aaa" stroke-width="0.6" />
<path d="M466.9 259.4 L471.5 260.4 L466.9 261.4 Z" stroke="none" stroke-width="0" fill="#333" />
<text x="474.8" y="272.7" font-size="12.8" font-style="italic" font-weight="normal" fill="#333" text-anchor="start" textLength="7.2" lengthAdjust="spacingAndGlyphs" transform="translate(474.8,272.7) skewX(-5) translate(-474.8,-272.7)" >Б</text>
<line x1="388" y1="230.4" x2="548" y2="230.4" stroke="#555" stroke-width="1.1" />
<line x1="388" y1="240" x2="397" y2="231" stroke="#8a8a8a" stroke-width="0.6" />
<line x1="392" y1="240" x2="401" y2="231" stroke="#8a8a8a" stroke-width="0.6" />
<line x1="396" y1="240" x2="405" y2="231" stroke="#8a8a8a" stroke-width="0.6" />
<line x1="400" y1="240" x2="409" y2="231" stroke="#8a8a8a" stroke-width="0.6" />
<line x1="410" y1="240" x2="419" y2="231" stroke="#8a8a8a" stroke-width="0.6" />
<line x1="414" y1="240" x2="423" y2="231" stroke="#8a8a8a" stroke-width="0.6" />
<line x1="418" y1="240" x2="427" y2="231" stroke="#8a8a8a" stroke-width="0.6" />
<line x1="422" y1="240" x2="431" y2="231" stroke="#8a8a8a" stroke-width="0.6" />
<line x1="432" y1="240" x2="441" y2="231" stroke="#8a8a8a" stroke-width="0.6" />
<line x1="436" y1="240" x2="445" y2="231" stroke="#8a8a8a" stroke-width="0.6" />
<line x1="440" y1="240" x2="449" y2="231" stroke="#8a8a8a" stroke-width="0.6" />
<line x1="444" y1="240" x2="453" y2="231" stroke="#8a8a8a" stroke-width="0.6" />
<line x1="454" y1="240" x2="463" y2="231" stroke="#8a8a8a" stroke-width="0.6" />
<line x1="458" y1="240" x2="467" y2="231" stroke="#8a8a8a" stroke-width="0.6" />
<line x1="462" y1="240" x2="471" y2="231" stroke="#8a8a8a" stroke-width="0.6" />
<line x1="466" y1="240" x2="475" y2="231" stroke="#8a8a8a" stroke-width="0.6" />
<line x1="476" y1="240" x2="485" y2="231" stroke="#8a8a8a" stroke-width="0.6" />
<line x1="480" y1="240" x2="489" y2="231" stroke="#8a8a8a" stroke-width="0.6" />
<line x1="484" y1="240" x2="493" y2="231" stroke="#8a8a8a" stroke-width="0.6" />
<line x1="488" y1="240" x2="497" y2="231" stroke="#8a8a8a" stroke-width="0.6" />
<line x1="498" y1="240" x2="507" y2="231" stroke="#8a8a8a" stroke-width="0.6" />
<line x1="502" y1="240" x2="511" y2="231" stroke="#8a8a8a" stroke-width="0.6" />
<line x1="506" y1="240" x2="515" y2="231" stroke="#8a8a8a" stroke-width="0.6" />
<line x1="510" y1="240" x2="519" y2="231" stroke="#8a8a8a" stroke-width="0.6" />
<line x1="520" y1="240" x2="529" y2="231" stroke="#8a8a8a" stroke-width="0.6" />
<line x1="524" y1="240" x2="533" y2="231" stroke="#8a8a8a" stroke-width="0.6" />
<line x1="528" y1="240" x2="537" y2="231" stroke="#8a8a8a" stroke-width="0.6" />
<line x1="532" y1="240" x2="541" y2="231" stroke="#8a8a8a" stroke-width="0.6" />
<line x1="538" y1="240" x2="547" y2="231" stroke="#8a8a8a" stroke-width="0.6" />
<line x1="542" y1="240" x2="551" y2="231" stroke="#8a8a8a" stroke-width="0.6" />
<line x1="410.4" y1="200" x2="410.4" y2="258" stroke="#999" stroke-width="0.6" />
<line x1="436.2" y1="230" x2="436.2" y2="249" stroke="#999" stroke-width="0.6" />
<line x1="495" y1="231" x2="495" y2="248" stroke="#999" stroke-width="0.6" />
<line x1="520" y1="231" x2="520" y2="256" stroke="#999" stroke-width="0.6" />
<line x1="436.2" y1="246" x2="495" y2="246" stroke="#888" stroke-width="0.6" />
<path d="M436.2 246 l5 -1 v2 z" stroke="none" stroke-width="0" fill="#555" />
<path d="M495 246 l-5 -1 v2 z" stroke="none" stroke-width="0" fill="#555" />
<text x="460.8" y="243.7" font-size="6.4" font-style="italic" font-weight="normal" fill="#3a3a3a" text-anchor="start" textLength="9.3" lengthAdjust="spacingAndGlyphs" transform="translate(460.8,243.7) skewX(-5) translate(-460.8,-243.7)"  stroke="#3a3a3a" stroke-width="0.12">660</text>
<line x1="410.4" y1="254.2" x2="520" y2="254.2" stroke="#888" stroke-width="0.6" />
<path d="M410.4 254.2 l5 -1 v2 z" stroke="none" stroke-width="0" fill="#555" />
<path d="M520 254.2 l-5 -1 v2 z" stroke="none" stroke-width="0" fill="#555" />
<text x="460.2" y="252.5" font-size="6.4" font-style="italic" font-weight="normal" fill="#3a3a3a" text-anchor="start" textLength="11.3" lengthAdjust="spacingAndGlyphs" transform="translate(460.2,252.5) skewX(-5) translate(-460.2,-252.5)"  stroke="#3a3a3a" stroke-width="0.12">1300</text>
<line x1="418.6" y1="79" x2="391.6" y2="141.8" stroke="#888" stroke-width="0.6" />
<line x1="391.6" y1="141.8" x2="330" y2="141.8" stroke="#999" stroke-width="0.6" />
<text x="331" y="138.6" font-size="10.5" font-style="italic" font-weight="normal" fill="#333" text-anchor="start" textLength="57.7" lengthAdjust="spacingAndGlyphs" transform="translate(331,138.6) skewX(-5) translate(-331,-138.6)" stroke="#333" stroke-width="0.22">Выход воды</text>
<text x="348.8" y="151.4" font-size="10.5" font-style="italic" font-weight="normal" fill="#333" text-anchor="start" textLength="23.7" lengthAdjust="spacingAndGlyphs" transform="translate(348.8,151.4) skewX(-5) translate(-348.8,-151.4)" stroke="#333" stroke-width="0.22">Dy50</text>
<line x1="514" y1="197" x2="522.5" y2="152.6" stroke="#888" stroke-width="0.6" />
<line x1="522.5" y1="152.6" x2="569" y2="152.6" stroke="#999" stroke-width="0.6" />
<text x="525" y="148.9" font-size="10.5" font-style="italic" font-weight="normal" fill="#333" text-anchor="start" textLength="51" lengthAdjust="spacingAndGlyphs" transform="translate(525,148.9) skewX(-5) translate(-525,-148.9)" stroke="#333" stroke-width="0.22">Вход воды</text>
<text x="536.3" y="161.6" font-size="10.5" font-style="italic" font-weight="normal" fill="#333" text-anchor="start" textLength="23.7" lengthAdjust="spacingAndGlyphs" transform="translate(536.3,161.6) skewX(-5) translate(-536.3,-161.6)" stroke="#333" stroke-width="0.22">Dy50</text>
<text x="93.3" y="269" font-size="7.2" font-style="italic" font-weight="normal" fill="#333" text-anchor="start" textLength="74.3" lengthAdjust="spacingAndGlyphs" transform="translate(93.3,269) skewX(-5) translate(-93.3,-269)"  stroke="#333" stroke-width="0.12">Техническая характеристика</text>
<line x1="42" y1="272" x2="228.6" y2="272" stroke="#555" stroke-width="1.1" />
<line x1="42" y1="285.5" x2="228.6" y2="285.5" stroke="#555" stroke-width="1.1" />
<line x1="42" y1="295.7" x2="228.6" y2="295.7" stroke="#555" stroke-width="1.1" />
<line x1="42" y1="305.7" x2="228.6" y2="305.7" stroke="#555" stroke-width="1.1" />
<line x1="42" y1="315.7" x2="228.6" y2="315.7" stroke="#555" stroke-width="1.1" />
<line x1="42" y1="325.8" x2="228.6" y2="325.8" stroke="#555" stroke-width="1.1" />
<line x1="42" y1="335.1" x2="228.6" y2="335.1" stroke="#555" stroke-width="1.1" />
<line x1="42" y1="345.3" x2="228.6" y2="345.3" stroke="#555" stroke-width="1.1" />
<line x1="42" y1="355.4" x2="228.6" y2="355.4" stroke="#555" stroke-width="1.1" />
<line x1="42" y1="365.5" x2="228.6" y2="365.5" stroke="#555" stroke-width="1.1" />
<line x1="42" y1="375.5" x2="228.6" y2="375.5" stroke="#555" stroke-width="1.1" />
<line x1="42" y1="385.6" x2="228.6" y2="385.6" stroke="#555" stroke-width="1.1" />
<line x1="141.9" y1="272" x2="141.9" y2="394.4" stroke="#555" stroke-width="1.1" />
<line x1="185.6" y1="272" x2="185.6" y2="394.4" stroke="#555" stroke-width="1.1" />
<line x1="228.6" y1="272" x2="228.6" y2="394.4" stroke="#444" stroke-width="1.2" />
<text x="43.9" y="280.6" font-size="6.0" font-style="italic" font-weight="normal" fill="#3a3a3a" text-anchor="start" textLength="67.9" lengthAdjust="spacingAndGlyphs" transform="translate(43.9,280.6) skewX(-5) translate(-43.9,-280.6)"  stroke="#3a3a3a" stroke-width="0.12">Наименование показателя</text>
<text x="43.9" y="292.1" font-size="6.0" font-style="italic" font-weight="normal" fill="#3a3a3a" text-anchor="start" textLength="59.5" lengthAdjust="spacingAndGlyphs" transform="translate(43.9,292.1) skewX(-5) translate(-43.9,-292.1)"  stroke="#3a3a3a" stroke-width="0.12">Номинальная мощность</text>
<text x="163.7" y="292.1" font-size="6.0" font-style="italic" font-weight="normal" fill="#3a3a3a" text-anchor="middle" textLength="7" lengthAdjust="spacingAndGlyphs" transform="translate(163.7,292.1) skewX(-5) translate(-163.7,-292.1)"  stroke="#3a3a3a" stroke-width="0.12">МВт</text>
<text x="207.2" y="292.1" font-size="6.0" font-style="italic" font-weight="normal" fill="#3a3a3a" text-anchor="middle" textLength="6.5" lengthAdjust="spacingAndGlyphs" transform="translate(207.2,292.1) skewX(-5) translate(-207.2,-292.1)"  stroke="#3a3a3a" stroke-width="0.12">0,3</text>
<text x="43.5" y="302.3" font-size="6.0" font-style="italic" font-weight="normal" fill="#3a3a3a" text-anchor="start" textLength="88.5" lengthAdjust="spacingAndGlyphs" transform="translate(43.5,302.3) skewX(-5) translate(-43.5,-302.3)"  stroke="#3a3a3a" stroke-width="0.12">Диапазон рабочего регулирования</text>
<text x="163.7" y="302.3" font-size="6.0" font-style="italic" font-weight="normal" fill="#3a3a3a" text-anchor="middle" textLength="3.5" lengthAdjust="spacingAndGlyphs" transform="translate(163.7,302.3) skewX(-5) translate(-163.7,-302.3)"  stroke="#3a3a3a" stroke-width="0.12">%</text>
<text x="207.2" y="302.3" font-size="6.0" font-style="italic" font-weight="normal" fill="#3a3a3a" text-anchor="middle" textLength="16.4" lengthAdjust="spacingAndGlyphs" transform="translate(207.2,302.3) skewX(-5) translate(-207.2,-302.3)"  stroke="#3a3a3a" stroke-width="0.12">50-100</text>
<text x="43.9" y="312.3" font-size="6.0" font-style="italic" font-weight="normal" fill="#3a3a3a" text-anchor="start" textLength="31.6" lengthAdjust="spacingAndGlyphs" transform="translate(43.9,312.3) skewX(-5) translate(-43.9,-312.3)"  stroke="#3a3a3a" stroke-width="0.12">Расход воды</text>
<text x="163.7" y="312.3" font-size="6.0" font-style="italic" font-weight="normal" fill="#3a3a3a" text-anchor="middle" textLength="9" lengthAdjust="spacingAndGlyphs" transform="translate(163.7,312.3) skewX(-5) translate(-163.7,-312.3)"  stroke="#3a3a3a" stroke-width="0.12">м3/ч</text>
<text x="207.2" y="312.3" font-size="6.0" font-style="italic" font-weight="normal" fill="#3a3a3a" text-anchor="middle" textLength="2.6" lengthAdjust="spacingAndGlyphs" transform="translate(207.2,312.3) skewX(-5) translate(-207.2,-312.3)"  stroke="#3a3a3a" stroke-width="0.12">11</text>
<text x="43.5" y="322.3" font-size="6.0" font-style="italic" font-weight="normal" fill="#3a3a3a" text-anchor="start" textLength="59.9" lengthAdjust="spacingAndGlyphs" transform="translate(43.5,322.3) skewX(-5) translate(-43.5,-322.3)"  stroke="#3a3a3a" stroke-width="0.12">Рабочее давление воды</text>
<text x="163.7" y="322.3" font-size="6.0" font-style="italic" font-weight="normal" fill="#3a3a3a" text-anchor="middle" textLength="34.9" lengthAdjust="spacingAndGlyphs" transform="translate(163.7,322.3) skewX(-5) translate(-163.7,-322.3)"  stroke="#3a3a3a" stroke-width="0.12">МПа (кгс/см2)</text>
<text x="207.2" y="322.3" font-size="6.0" font-style="italic" font-weight="normal" fill="#3a3a3a" text-anchor="middle" textLength="20.3" lengthAdjust="spacingAndGlyphs" transform="translate(207.2,322.3) skewX(-5) translate(-207.2,-322.3)"  stroke="#3a3a3a" stroke-width="0.12">0,6 (6,0)</text>
<text x="43.5" y="332.40000000000003" font-size="6.0" font-style="italic" font-weight="normal" fill="#3a3a3a" text-anchor="start" textLength="96.7" lengthAdjust="spacingAndGlyphs" transform="translate(43.5,332.40000000000003) skewX(-5) translate(-43.5,-332.40000000000003)"  stroke="#3a3a3a" stroke-width="0.12">Гидравлическое сопротивление котла</text>
<text x="163.7" y="332.40000000000003" font-size="6.0" font-style="italic" font-weight="normal" fill="#3a3a3a" text-anchor="middle" textLength="34.9" lengthAdjust="spacingAndGlyphs" transform="translate(163.7,332.40000000000003) skewX(-5) translate(-163.7,-332.40000000000003)"  stroke="#3a3a3a" stroke-width="0.12">МПа (кгс/см2)</text>
<text x="207.2" y="332.40000000000003" font-size="6.0" font-style="italic" font-weight="normal" fill="#3a3a3a" text-anchor="middle" textLength="22.8" lengthAdjust="spacingAndGlyphs" transform="translate(207.2,332.40000000000003) skewX(-5) translate(-207.2,-332.40000000000003)"  stroke="#3a3a3a" stroke-width="0.12">0,06 (0,6)</text>
<text x="43.5" y="341.70000000000005" font-size="6.0" font-style="italic" font-weight="normal" fill="#3a3a3a" text-anchor="start" textLength="75.7" lengthAdjust="spacingAndGlyphs" transform="translate(43.5,341.70000000000005) skewX(-5) translate(-43.5,-341.70000000000005)"  stroke="#3a3a3a" stroke-width="0.12">Температура уходящих газов</text>
<text x="163.7" y="341.70000000000005" font-size="6.0" font-style="italic" font-weight="normal" fill="#3a3a3a" text-anchor="middle" textLength="4.5" lengthAdjust="spacingAndGlyphs" transform="translate(163.7,341.70000000000005) skewX(-5) translate(-163.7,-341.70000000000005)"  stroke="#3a3a3a" stroke-width="0.12">°С</text>
<text x="207.2" y="341.70000000000005" font-size="6.0" font-style="italic" font-weight="normal" fill="#3a3a3a" text-anchor="middle" textLength="28.5" lengthAdjust="spacingAndGlyphs" transform="translate(207.2,341.70000000000005) skewX(-5) translate(-207.2,-341.70000000000005)"  stroke="#3a3a3a" stroke-width="0.12">не более 220</text>
<text x="43.5" y="351.90000000000003" font-size="6.0" font-style="italic" font-weight="normal" fill="#3a3a3a" text-anchor="start" textLength="81.8" lengthAdjust="spacingAndGlyphs" transform="translate(43.5,351.90000000000003) skewX(-5) translate(-43.5,-351.90000000000003)"  stroke="#3a3a3a" stroke-width="0.12">Температура воды (Вход/Выход)</text>
<text x="163.7" y="351.90000000000003" font-size="6.0" font-style="italic" font-weight="normal" fill="#3a3a3a" text-anchor="middle" textLength="4.5" lengthAdjust="spacingAndGlyphs" transform="translate(163.7,351.90000000000003) skewX(-5) translate(-163.7,-351.90000000000003)"  stroke="#3a3a3a" stroke-width="0.12">°С</text>
<text x="207.2" y="351.90000000000003" font-size="6.0" font-style="italic" font-weight="normal" fill="#3a3a3a" text-anchor="middle" textLength="12.5" lengthAdjust="spacingAndGlyphs" transform="translate(207.2,351.90000000000003) skewX(-5) translate(-207.2,-351.90000000000003)"  stroke="#3a3a3a" stroke-width="0.12">70/95</text>
<text x="45.3" y="362.0" font-size="6.0" font-style="italic" font-weight="normal" fill="#3a3a3a" text-anchor="start" textLength="42" lengthAdjust="spacingAndGlyphs" transform="translate(45.3,362.0) skewX(-5) translate(-45.3,-362.0)"  stroke="#3a3a3a" stroke-width="0.12">Габариты котла</text>
<text x="55.8" y="372.1" font-size="6.0" font-style="italic" font-weight="normal" fill="#3a3a3a" text-anchor="start" textLength="19.2" lengthAdjust="spacingAndGlyphs" transform="translate(55.8,372.1) skewX(-5) translate(-55.8,-372.1)"  stroke="#3a3a3a" stroke-width="0.12">- длина</text>
<text x="163.7" y="372.1" font-size="6.0" font-style="italic" font-weight="normal" fill="#3a3a3a" text-anchor="middle" textLength="6.3" lengthAdjust="spacingAndGlyphs" transform="translate(163.7,372.1) skewX(-5) translate(-163.7,-372.1)"  stroke="#3a3a3a" stroke-width="0.12">мм</text>
<text x="207.2" y="372.1" font-size="6.0" font-style="italic" font-weight="normal" fill="#3a3a3a" text-anchor="middle" textLength="9.5" lengthAdjust="spacingAndGlyphs" transform="translate(207.2,372.1) skewX(-5) translate(-207.2,-372.1)"  stroke="#3a3a3a" stroke-width="0.12">1860</text>
<text x="55.8" y="382.1" font-size="6.0" font-style="italic" font-weight="normal" fill="#3a3a3a" text-anchor="start" textLength="23.1" lengthAdjust="spacingAndGlyphs" transform="translate(55.8,382.1) skewX(-5) translate(-55.8,-382.1)"  stroke="#3a3a3a" stroke-width="0.12">- ширина</text>
<text x="163.7" y="382.1" font-size="6.0" font-style="italic" font-weight="normal" fill="#3a3a3a" text-anchor="middle" textLength="6.3" lengthAdjust="spacingAndGlyphs" transform="translate(163.7,382.1) skewX(-5) translate(-163.7,-382.1)"  stroke="#3a3a3a" stroke-width="0.12">мм</text>
<text x="207.2" y="382.1" font-size="6.0" font-style="italic" font-weight="normal" fill="#3a3a3a" text-anchor="middle" textLength="9.5" lengthAdjust="spacingAndGlyphs" transform="translate(207.2,382.1) skewX(-5) translate(-207.2,-382.1)"  stroke="#3a3a3a" stroke-width="0.12">1300</text>
<text x="55.8" y="392.20000000000005" font-size="6.0" font-style="italic" font-weight="normal" fill="#3a3a3a" text-anchor="start" textLength="23.1" lengthAdjust="spacingAndGlyphs" transform="translate(55.8,392.20000000000005) skewX(-5) translate(-55.8,-392.20000000000005)"  stroke="#3a3a3a" stroke-width="0.12">- высота</text>
<text x="163.7" y="392.20000000000005" font-size="6.0" font-style="italic" font-weight="normal" fill="#3a3a3a" text-anchor="middle" textLength="6.3" lengthAdjust="spacingAndGlyphs" transform="translate(163.7,392.20000000000005) skewX(-5) translate(-163.7,-392.20000000000005)"  stroke="#3a3a3a" stroke-width="0.12">мм</text>
<text x="207.2" y="392.20000000000005" font-size="6.0" font-style="italic" font-weight="normal" fill="#3a3a3a" text-anchor="middle" textLength="9.5" lengthAdjust="spacingAndGlyphs" transform="translate(207.2,392.20000000000005) skewX(-5) translate(-207.2,-392.20000000000005)"  stroke="#3a3a3a" stroke-width="0.12">2100</text>
<text x="163.2" y="277.8" font-size="6.0" font-style="italic" font-weight="normal" fill="#3a3a3a" text-anchor="middle" textLength="18.7" lengthAdjust="spacingAndGlyphs" transform="translate(163.2,277.8) skewX(-5) translate(-163.2,-277.8)"  stroke="#3a3a3a" stroke-width="0.12">Единицы</text>
<text x="163.8" y="283.3" font-size="6.0" font-style="italic" font-weight="normal" fill="#3a3a3a" text-anchor="middle" textLength="23" lengthAdjust="spacingAndGlyphs" transform="translate(163.8,283.3) skewX(-5) translate(-163.8,-283.3)"  stroke="#3a3a3a" stroke-width="0.12">измерения</text>
<text x="207.4" y="281" font-size="6.0" font-style="italic" font-weight="normal" fill="#3a3a3a" text-anchor="middle" textLength="22.9" lengthAdjust="spacingAndGlyphs" transform="translate(207.4,281) skewX(-5) translate(-207.4,-281)"  stroke="#3a3a3a" stroke-width="0.12">Значения</text>
<text x="335.1" y="279.3" font-size="6.0" font-style="italic" font-weight="normal" fill="#333" text-anchor="start" textLength="239.9" lengthAdjust="spacingAndGlyphs" transform="translate(335.1,279.3) skewX(-5) translate(-335.1,-279.3)"  stroke="#333" stroke-width="0.12">1.  На боковой стенке котла в области топочной камеры установлен пробоотборный штуцер</text>
<text x="335.1" y="285.8" font-size="6.0" font-style="italic" font-weight="normal" fill="#333" text-anchor="start" textLength="138.9" lengthAdjust="spacingAndGlyphs" transform="translate(335.1,285.8) skewX(-5) translate(-335.1,-285.8)"  stroke="#333" stroke-width="0.12">2.  Температура воды на входе 70°С, на выходе 95°С.</text>
<text x="335.1" y="292.6" font-size="6.0" font-style="italic" font-weight="normal" fill="#333" text-anchor="start" textLength="240.5" lengthAdjust="spacingAndGlyphs" transform="translate(335.1,292.6) skewX(-5) translate(-335.1,-292.6)"  stroke="#333" stroke-width="0.12">3.  На подводящей трубе котла, до запорной арматуры установлены: манометр, прибор для</text>
<text x="334.6" y="299.2" font-size="6.0" font-style="italic" font-weight="normal" fill="#333" text-anchor="start" textLength="66" lengthAdjust="spacingAndGlyphs" transform="translate(334.6,299.2) skewX(-5) translate(-334.6,-299.2)"  stroke="#333" stroke-width="0.12">измерения температуры.</text>
<text x="335.1" y="306" font-size="6.0" font-style="italic" font-weight="normal" fill="#333" text-anchor="start" textLength="237.3" lengthAdjust="spacingAndGlyphs" transform="translate(335.1,306) skewX(-5) translate(-335.1,-306)"  stroke="#333" stroke-width="0.12">4.  На отводящей трубе котла ,до запорной арматуры установлены: манометр, прибор для</text>
<text x="334.6" y="312.4" font-size="6.0" font-style="italic" font-weight="normal" fill="#333" text-anchor="start" textLength="193" lengthAdjust="spacingAndGlyphs" transform="translate(334.6,312.4) skewX(-5) translate(-334.6,-312.4)"  stroke="#333" stroke-width="0.12">измерения температуры и предохранительный клапан Dу не менее 40 мм.</text>
<text x="335.1" y="319" font-size="6.0" font-style="italic" font-weight="normal" fill="#333" text-anchor="start" textLength="158.2" lengthAdjust="spacingAndGlyphs" transform="translate(335.1,319) skewX(-5) translate(-335.1,-319)"  stroke="#333" stroke-width="0.12">5.  Остальные технические требования по ОСТ 108.030.133-84.</text>
<line x1="340.5" y1="324.7" x2="577.3" y2="324.7" stroke="#2e2e2e" stroke-width="1.4" />
<line x1="340.5" y1="324.7" x2="340.5" y2="394.4" stroke="#2e2e2e" stroke-width="1.4" />
<line x1="340.5" y1="330.6" x2="424" y2="330.6" stroke="#666" stroke-width="0.8" />
<line x1="340.5" y1="337" x2="424" y2="337" stroke="#666" stroke-width="0.8" />
<line x1="340.5" y1="343.5" x2="424" y2="343.5" stroke="#666" stroke-width="0.8" />
<line x1="340.5" y1="349.9" x2="424" y2="349.9" stroke="#333" stroke-width="1.4" />
<line x1="340.5" y1="356.3" x2="424" y2="356.3" stroke="#333" stroke-width="1.4" />
<line x1="340.5" y1="362.6" x2="424" y2="362.6" stroke="#555" stroke-width="0.8" />
<line x1="340.5" y1="369" x2="424" y2="369" stroke="#666" stroke-width="0.8" />
<line x1="340.5" y1="375.2" x2="424" y2="375.2" stroke="#555" stroke-width="0.8" />
<line x1="340.5" y1="381.8" x2="424" y2="381.8" stroke="#666" stroke-width="0.8" />
<line x1="340.5" y1="388.3" x2="424" y2="388.3" stroke="#555" stroke-width="0.8" />
<line x1="349.8" y1="324.7" x2="349.8" y2="356.3" stroke="#2e2e2e" stroke-width="1.4" />
<line x1="362.4" y1="324.7" x2="362.4" y2="394.4" stroke="#2e2e2e" stroke-width="1.4" />
<line x1="391.6" y1="324.7" x2="391.6" y2="394.4" stroke="#2e2e2e" stroke-width="1.4" />
<line x1="411.3" y1="324.7" x2="411.3" y2="394.4" stroke="#2e2e2e" stroke-width="1.4" />
<line x1="424" y1="324.7" x2="424" y2="394.4" stroke="#2e2e2e" stroke-width="1.4" />
<text x="341" y="354.7" font-size="6.2" font-style="italic" font-weight="normal" fill="#333" text-anchor="start" textLength="8.7" lengthAdjust="spacingAndGlyphs" transform="translate(341,354.7) skewX(-5) translate(-341,-354.7)"  stroke="#333" stroke-width="0.12">Изм.</text>
<text x="350.7" y="354.7" font-size="6.2" font-style="italic" font-weight="normal" fill="#333" text-anchor="start" textLength="10.5" lengthAdjust="spacingAndGlyphs" transform="translate(350.7,354.7) skewX(-5) translate(-350.7,-354.7)"  stroke="#333" stroke-width="0.12">Лист</text>
<text x="368.7" y="354.7" font-size="6.2" font-style="italic" font-weight="normal" fill="#333" text-anchor="start" textLength="19.5" lengthAdjust="spacingAndGlyphs" transform="translate(368.7,354.7) skewX(-5) translate(-368.7,-354.7)"  stroke="#333" stroke-width="0.12">N докум.</text>
<text x="395.7" y="354.7" font-size="6.2" font-style="italic" font-weight="normal" fill="#333" text-anchor="start" textLength="12" lengthAdjust="spacingAndGlyphs" transform="translate(395.7,354.7) skewX(-5) translate(-395.7,-354.7)"  stroke="#333" stroke-width="0.12">Подп.</text>
<text x="413" y="354.7" font-size="6.2" font-style="italic" font-weight="normal" fill="#333" text-anchor="start" textLength="9.7" lengthAdjust="spacingAndGlyphs" transform="translate(413,354.7) skewX(-5) translate(-413,-354.7)"  stroke="#333" stroke-width="0.12">Дата</text>
<text x="343.2" y="360.7" font-size="6.2" font-style="italic" font-weight="normal" fill="#333" text-anchor="start" textLength="17.3" lengthAdjust="spacingAndGlyphs" transform="translate(343.2,360.7) skewX(-5) translate(-343.2,-360.7)"  stroke="#333" stroke-width="0.12">Разраб.</text>
<text x="343.2" y="366.9" font-size="6.2" font-style="italic" font-weight="normal" fill="#333" text-anchor="start" textLength="10.5" lengthAdjust="spacingAndGlyphs" transform="translate(343.2,366.9) skewX(-5) translate(-343.2,-366.9)"  stroke="#333" stroke-width="0.12">Пров.</text>
<text x="343.2" y="373.5" font-size="6.2" font-style="italic" font-weight="normal" fill="#333" text-anchor="start" textLength="18" lengthAdjust="spacingAndGlyphs" transform="translate(343.2,373.5) skewX(-5) translate(-343.2,-373.5)"  stroke="#333" stroke-width="0.12">Т.контр.</text>
<text x="343.2" y="386.3" font-size="6.2" font-style="italic" font-weight="normal" fill="#333" text-anchor="start" textLength="18" lengthAdjust="spacingAndGlyphs" transform="translate(343.2,386.3) skewX(-5) translate(-343.2,-386.3)"  stroke="#333" stroke-width="0.12">Н.контр.</text>
<text x="343.2" y="392.7" font-size="6.2" font-style="italic" font-weight="normal" fill="#333" text-anchor="start" textLength="9" lengthAdjust="spacingAndGlyphs" transform="translate(343.2,392.7) skewX(-5) translate(-343.2,-392.7)"  stroke="#333" stroke-width="0.12">Утв.</text>
<line x1="424" y1="343.3" x2="577.3" y2="343.3" stroke="#2e2e2e" stroke-width="1.4" />
<line x1="424" y1="375.3" x2="577.3" y2="375.3" stroke="#2e2e2e" stroke-width="1.4" />
<line x1="513.5" y1="343.3" x2="513.5" y2="394.4" stroke="#2e2e2e" stroke-width="1.4" />
<line x1="513.5" y1="350.3" x2="577.3" y2="350.3" stroke="#444" stroke-width="0.8" />
<line x1="513.5" y1="369.1" x2="577.3" y2="369.1" stroke="#333" stroke-width="1.4" />
<line x1="532.4" y1="343.3" x2="532.4" y2="369.1" stroke="#2e2e2e" stroke-width="1.4" />
<line x1="554.6" y1="343.3" x2="554.6" y2="369.1" stroke="#2e2e2e" stroke-width="1.4" />
<line x1="519.3" y1="350.3" x2="519.3" y2="369.1" stroke="#999" stroke-width="0.6" />
<line x1="526.3" y1="350.3" x2="526.3" y2="369.1" stroke="#999" stroke-width="0.6" />
<line x1="538.8" y1="369.1" x2="538.8" y2="375.3" stroke="#2e2e2e" stroke-width="1.4" />
<text x="436.5" y="337.2" font-size="10.6" font-style="italic" font-weight="normal" fill="#2a2a2a" text-anchor="start" textLength="106.2" lengthAdjust="spacingAndGlyphs" transform="translate(436.5,337.2) skewX(-5) translate(-436.5,-337.2)" style="letter-spacing:0.14em">КВТД .026.801.00.000</text>
<text x="551.2" y="337.2" font-size="10.6" font-style="italic" font-weight="normal" fill="#2a2a2a" text-anchor="start" textLength="14.1" lengthAdjust="spacingAndGlyphs" transform="translate(551.2,337.2) skewX(-5) translate(-551.2,-337.2)" style="letter-spacing:0.14em">ВО</text>
<text x="439.7" y="357.2" font-size="6.8" font-style="italic" font-weight="normal" fill="#333" text-anchor="start" textLength="57.8" lengthAdjust="spacingAndGlyphs" transform="translate(439.7,357.2) skewX(-5) translate(-439.7,-357.2)"  stroke="#333" stroke-width="0.12">Котел водогрейный</text>
<text x="442.7" y="365.2" font-size="6.8" font-style="italic" font-weight="normal" fill="#333" text-anchor="start" textLength="51" lengthAdjust="spacingAndGlyphs" transform="translate(442.7,365.2) skewX(-5) translate(-442.7,-365.2)"  stroke="#333" stroke-width="0.12">КВр -0,3  Д  (ПТ)</text>
<text x="518.8" y="348.8" font-size="6.2" font-style="italic" font-weight="normal" fill="#333" text-anchor="start" textLength="8.7" lengthAdjust="spacingAndGlyphs" transform="translate(518.8,348.8) skewX(-5) translate(-518.8,-348.8)"  stroke="#333" stroke-width="0.12">Лит.</text>
<text x="537" y="348.8" font-size="6.2" font-style="italic" font-weight="normal" fill="#333" text-anchor="start" textLength="13.8" lengthAdjust="spacingAndGlyphs" transform="translate(537,348.8) skewX(-5) translate(-537,-348.8)"  stroke="#333" stroke-width="0.12">Масса</text>
<text x="555.5" y="348.8" font-size="6.2" font-style="italic" font-weight="normal" fill="#333" text-anchor="start" textLength="21.5" lengthAdjust="spacingAndGlyphs" transform="translate(555.5,348.8) skewX(-5) translate(-555.5,-348.8)"  stroke="#333" stroke-width="0.12">Масштаб</text>
<text x="513.9" y="361.6" font-size="6.2" font-style="italic" font-weight="normal" fill="#333" text-anchor="start" textLength="4.6" lengthAdjust="spacingAndGlyphs" transform="translate(513.9,361.6) skewX(-5) translate(-513.9,-361.6)"  stroke="#333" stroke-width="0.12">И</text>
<text x="563" y="361.6" font-size="6.2" font-style="italic" font-weight="normal" fill="#333" text-anchor="start" textLength="8.8" lengthAdjust="spacingAndGlyphs" transform="translate(563,361.6) skewX(-5) translate(-563,-361.6)"  stroke="#333" stroke-width="0.12">1:15</text>
<text x="517.6" y="373.9" font-size="6.2" font-style="italic" font-weight="normal" fill="#333" text-anchor="start" textLength="11.1" lengthAdjust="spacingAndGlyphs" transform="translate(517.6,373.9) skewX(-5) translate(-517.6,-373.9)"  stroke="#333" stroke-width="0.12">Лист</text>
<text x="533.3" y="373.9" font-size="6.2" font-style="italic" font-weight="normal" fill="#333" text-anchor="start" textLength="2.2" lengthAdjust="spacingAndGlyphs" transform="translate(533.3,373.9) skewX(-5) translate(-533.3,-373.9)"  stroke="#333" stroke-width="0.12">1</text>
<text x="540.3" y="373.9" font-size="6.2" font-style="italic" font-weight="normal" fill="#333" text-anchor="start" textLength="17.5" lengthAdjust="spacingAndGlyphs" transform="translate(540.3,373.9) skewX(-5) translate(-540.3,-373.9)"  stroke="#333" stroke-width="0.12">Листов</text>
<text x="567.8" y="373.9" font-size="6.2" font-style="italic" font-weight="normal" fill="#333" text-anchor="start" textLength="2.8" lengthAdjust="spacingAndGlyphs" transform="translate(567.8,373.9) skewX(-5) translate(-567.8,-373.9)"  stroke="#333" stroke-width="0.12">2</text>
<rect x="514.3" y="380.3" width="9.4" height="10.6" stroke="none" stroke-width="0" fill="#111" rx="0.8" />
<path d="M514.3 383.6 Q516.6 382.6 518.9 383.6 Q521.2 384.6 523.7 383.6" stroke="#fff" stroke-width="0.9" fill="none" />
<path d="M514.3 387.4 Q516.6 386.4 518.9 387.4 Q521.2 388.4 523.7 387.4" stroke="#fff" stroke-width="0.9" fill="none" />
<text x="525.8" y="390.9" font-size="14.8" font-style="normal" font-weight="bold" fill="#111" text-anchor="start" textLength="22.1" lengthAdjust="spacingAndGlyphs" stroke="#111" stroke-width="0.8">KVZR</text>
<text x="550.8" y="384.7" font-size="4.2" font-style="normal" font-weight="normal" fill="#666" text-anchor="start" textLength="24" lengthAdjust="spacingAndGlyphs"  stroke="#666" stroke-width="0.12">КОТЕЛЬНЫЙ</text>
<text x="550.8" y="390.7" font-size="4.2" font-style="normal" font-weight="normal" fill="#666" text-anchor="start" textLength="23.4" lengthAdjust="spacingAndGlyphs"  stroke="#666" stroke-width="0.12">ЗАВОД РЭП</text>
<text x="536.8" y="399.9" font-size="5.6" font-style="italic" font-weight="normal" fill="#555" text-anchor="start" textLength="18.7" lengthAdjust="spacingAndGlyphs" transform="translate(536.8,399.9) skewX(-5) translate(-536.8,-399.9)"  stroke="#555" stroke-width="0.12">Формат</text>
<text x="560.2" y="399.9" font-size="5.6" font-style="italic" font-weight="normal" fill="#555" text-anchor="start" textLength="5.8" lengthAdjust="spacingAndGlyphs" transform="translate(560.2,399.9) skewX(-5) translate(-560.2,-399.9)"  stroke="#555" stroke-width="0.12">А3</text>
</svg>
</body></html>
